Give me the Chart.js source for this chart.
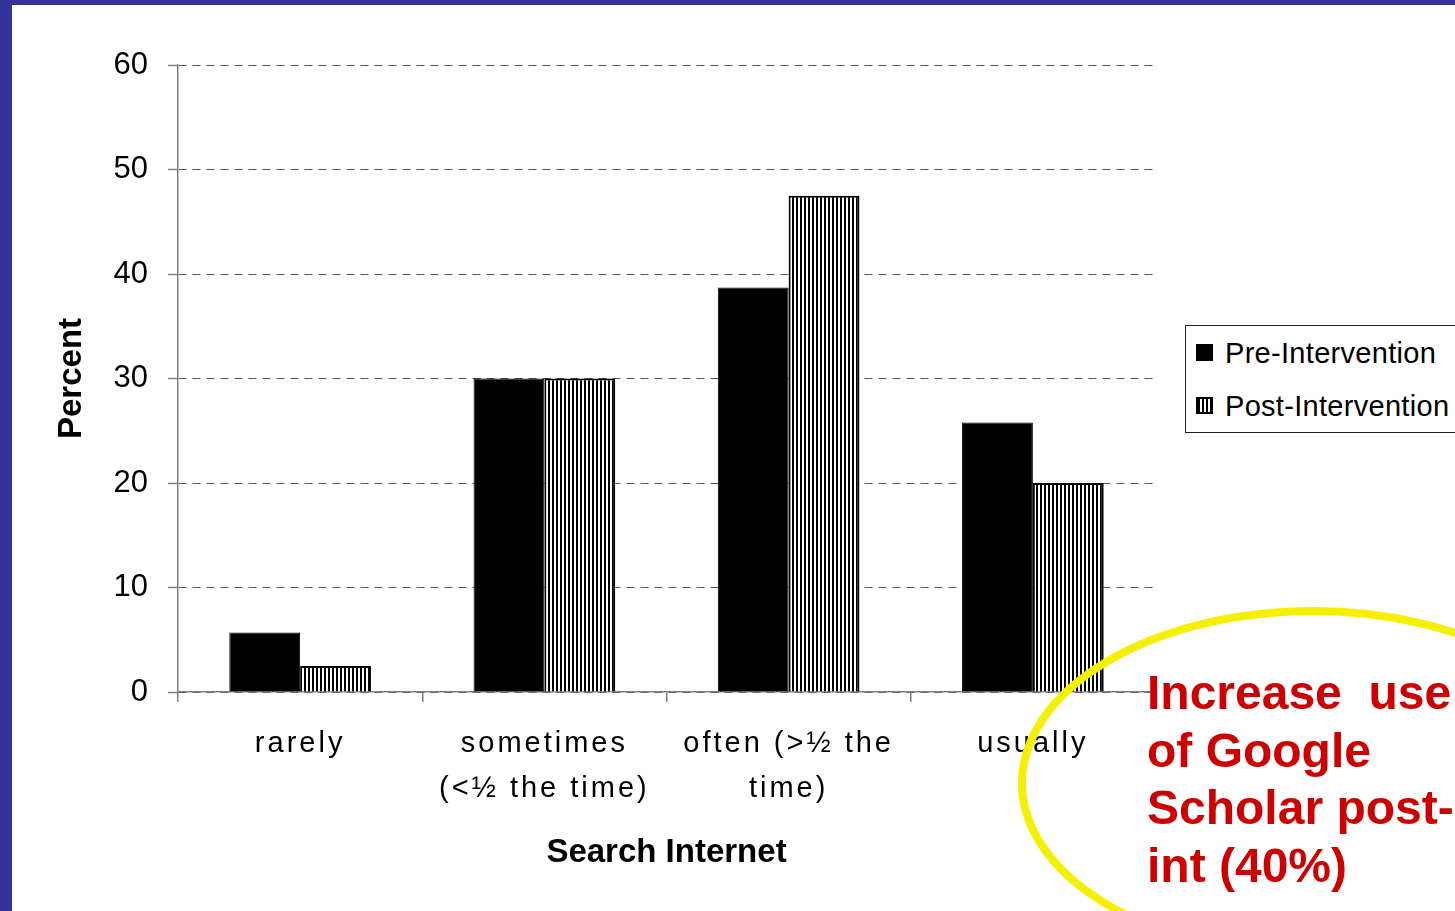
<!DOCTYPE html>
<html>
<head>
<meta charset="utf-8">
<script src="https://cdn.jsdelivr.net/npm/chart.js@4.4.1/dist/chart.umd.min.js"></script>
<style>
  html, body { margin: 0; padding: 0; background: #fff; overflow: hidden; }
  #wrap { position: relative; width: 1455px; height: 911px; overflow: hidden; background: #fff; }
  #chart { position: absolute; left: 0; top: 0; }
  .frameL { position: absolute; left: 0; top: 0; width: 12px; height: 911px; background: #333399; }
  .frameT { position: absolute; left: 0; top: 0; width: 1455px; height: 5px; background: #333399; }
  #legend { position: absolute; left: 1185px; top: 325px; width: 300px; height: 106px;
            border: 1px solid #222; background: #fff; font-family: "Liberation Sans", Arial, sans-serif;
            font-size: 29px; color: #000; }
  #legend .item { position: absolute; left: 10px; height: 30px; line-height: 30px; white-space: nowrap; }
  #legend .sw { position: absolute; left: 0; top: 6px; width: 17px; height: 17px; box-sizing: border-box; }
  #legend .txt { position: absolute; left: 29px; top: 0; letter-spacing: 0.3px; }
  #ring { position: absolute; left: 0; top: 0; pointer-events: none; }
  #note { position: absolute; left: 1147px; top: 664px; font-family: "Liberation Sans", Arial, sans-serif;
          font-weight: bold; font-size: 48px; line-height: 57.5px; color: #cc0000; white-space: pre; }
</style>
</head>
<body>
<div id="wrap">
  <canvas id="chart" width="1455" height="911"></canvas>
  <div class="frameL"></div>
  <div class="frameT"></div>
  <div id="legend"></div>
  <svg id="ring" width="1455" height="911">
    <ellipse cx="1313" cy="783" rx="291" ry="172" fill="none" stroke="#f5ef00" stroke-width="8"/>
  </svg>
  <div id="note">Increase  use
of Google
Scholar post-
int (40%)</div>
</div>
<script>
'use strict';
// data
var categories = [['rarely'], ['sometimes', '(<\u00bd the time)'], ['often (>\u00bd the', 'time)'], ['usually']];
var seriesNames = ['Pre-Intervention', 'Post-Intervention'];
var preValues = [5.7, 30, 38.7, 25.8];
var postValues = [2.5, 30, 47.5, 20];
var yTicks = [0, 10, 20, 30, 40, 50, 60];

var fontFam = '"Liberation Sans", Arial, sans-serif';

// vertical stripe fill for the post bars
function stripePattern(ctx) {
    var c = document.createElement('canvas');
    c.width = 4; c.height = 4;
    var p = c.getContext('2d');
    p.fillStyle = '#fff';
    p.fillRect(0, 0, 4, 4);
    p.fillStyle = '#000';
    p.fillRect(0, 0, 2, 4);
    return ctx.createPattern(c, 'repeat');
}

// the category labels in the picture are spread out a bit
var labelSpacing = {
    id: 'labelSpacing',
    afterLayout: function (chart) {
        var sx = chart.scales.x;
        if (sx._spaced) return;
        var orig = sx.drawLabels;
        sx.drawLabels = function (area) {
            this.ctx.save();
            this.ctx.letterSpacing = '3px';
            orig.call(this, area);
            this.ctx.restore();
        };
        sx._spaced = true;
    }
};

var ctx = document.getElementById('chart').getContext('2d');
var stripes = stripePattern(ctx);

var chart = new Chart(ctx, {
    type: 'bar',
    data: {
        labels: categories,
        datasets: [{
            label: seriesNames[0],
            data: preValues,
            backgroundColor: '#000',
            borderColor: '#000',
            borderWidth: 1
        }, {
            label: seriesNames[1],
            data: postValues,
            backgroundColor: stripes,
            borderColor: '#000',
            borderWidth: 2
        }]
    },
    options: {
        responsive: false,
        animation: false,
        devicePixelRatio: 1,
        layout: { padding: { left: 0, top: 65, right: 300, bottom: 0 } },
        plugins: {
            legend: { display: false },
            tooltip: { enabled: false }
        },
        datasets: {
            bar: { categoryPercentage: 0.58, barPercentage: 1 }
        },
        scales: {
            x: {
                grid: { display: true, drawOnChartArea: false, offset: true, tickLength: 10, color: '#808080', lineWidth: 1.5 },
                border: { display: true, color: '#808080', width: 1.5 },
                ticks: { color: '#000', padding: 20, font: { family: fontFam, size: 29, lineHeight: 1.55 }, maxRotation: 0, autoSkip: false },
                title: { display: true, text: 'Search Internet', color: '#000',
                         font: { family: fontFam, size: 33, weight: 'bold', lineHeight: 1.2 },
                         padding: { top: 0, bottom: 38 } },
                afterFit: function (s) { s.height = 219; }
            },
            y: {
                min: 0,
                max: 60,
                afterBuildTicks: function (s) { s.ticks = yTicks.map(function (v) { return { value: v }; }); },
                grid: { color: '#555', lineWidth: 1, tickLength: 10, tickColor: '#808080', tickBorderDash: [], tickWidth: 1.5 },
                border: { display: true, color: '#808080', width: 1.5, dash: [8, 6] },
                ticks: { color: '#000', padding: 20, font: { family: fontFam, size: 31 } },
                title: { display: true, text: 'Percent', color: '#000',
                         font: { family: fontFam, size: 33, weight: 'bold', lineHeight: 1.2 },
                         padding: { top: 52, bottom: 0 } },
                afterFit: function (s) { s.width = 178; }
            }
        }
    },
    plugins: [labelSpacing]
});

// legend built from the series names
var legend = document.getElementById('legend');
var swatchStyles = ['background:#000;', 'border:2px solid #000;background:repeating-linear-gradient(90deg,#000 0 2px,#fff 2px 4px);'];
for (var i = 0; i < seriesNames.length; i++) {
    var item = document.createElement('div');
    item.className = 'item';
    item.style.top = (12 + i * 53) + 'px';
    item.innerHTML = '<span class="sw" style="' + swatchStyles[i] + '"></span><span class="txt"></span>';
    item.querySelector('.txt').textContent = seriesNames[i];
    legend.appendChild(item);
}
</script>
</body>
</html>
